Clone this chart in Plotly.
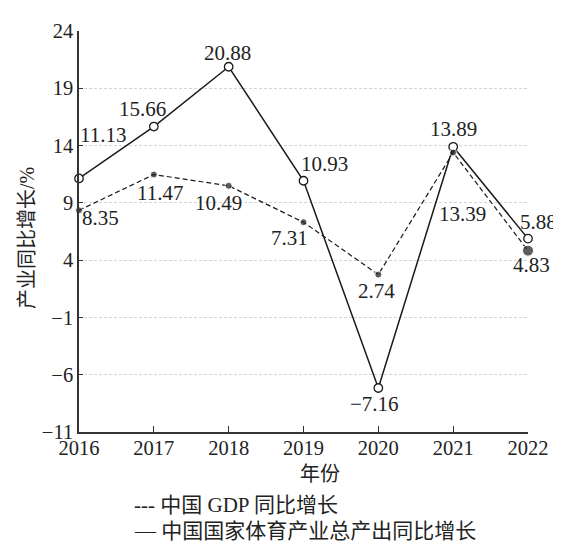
import plotly.graph_objects as go

years = [2016, 2017, 2018, 2019, 2020, 2021, 2022]
gdp_growth = [8.35, 11.47, 10.49, 7.31, 2.74, 13.39, 4.83]
sports_growth = [11.13, 15.66, 20.88, 10.93, -7.16, 13.89, 5.88]
y_ticks = [-11, -6, -1, 4, 9, 14, 19, 24]
y_tick_labels = ["\u221211", "\u22126", "\u22121", "4", "9", "14", "19", "24"]

def fmt(v):
    return ("\u2212" if v < 0 else "") + f"{abs(v):.2f}"

# label offsets (pixels) for each point
sports_shift = [(24, 43), (-11, 18), (-1, 14), (21, 17), (-4, -16), (0, 18), (10, 17)]
gdp_shift = [(21, -8), (6, -18), (-10, -17), (-14, -16), (-2, -16), (9, -61), (3, -14)]
gdp_sizes = [7, 7, 7, 7, 7, 7, 11]

FONT = "Liberation Serif, Noto Sans CJK SC, serif"

fig = go.Figure()
fig.add_trace(go.Scatter(
    x=years, y=sports_growth, mode="lines+markers",
    line=dict(color="#1a1a1a", width=1.5),
    marker=dict(symbol="circle", size=8.5, color="white", line=dict(color="#1a1a1a", width=1.3)),
    showlegend=False, cliponaxis=False,
))
fig.add_trace(go.Scatter(
    x=years, y=gdp_growth, mode="lines+markers",
    line=dict(color="#1a1a1a", width=1.2, dash="5px,3px"),
    marker=dict(symbol="circle", size=gdp_sizes, color="#1a1a1a"),
    showlegend=False, cliponaxis=False,
))

annotations = []
for x, v, (dx, dy) in zip(years, sports_growth, sports_shift):
    annotations.append(dict(x=x, y=v, text=fmt(v), showarrow=False, xshift=dx, yshift=dy,
                            font=dict(family=FONT, size=21, color="#222")))
for x, v, (dx, dy) in zip(years, gdp_growth, gdp_shift):
    annotations.append(dict(x=x, y=v, text=fmt(v), showarrow=False, xshift=dx, yshift=dy,
                            font=dict(family=FONT, size=21, color="#222")))

# axis titles
annotations.append(dict(xref="paper", yref="paper", x=0.537, y=-0.105, xanchor="center", yanchor="middle",
                        text="年份", showarrow=False, font=dict(family=FONT, size=20, color="#222")))
annotations.append(dict(xref="paper", yref="paper", x=-0.117, y=0.485, xanchor="center", yanchor="middle",
                        text="产业同比增长/%", textangle=-90, showarrow=False,
                        font=dict(family=FONT, size=20, color="#222")))
# legend
annotations.append(dict(xref="paper", yref="paper", x=0.119, y=-0.183, xanchor="left", yanchor="middle",
                        text="--- 中国 GDP 同比增长", showarrow=False,
                        font=dict(family=FONT, size=21, color="#222")))
annotations.append(dict(xref="paper", yref="paper", x=0.119, y=-0.246, xanchor="left", yanchor="middle",
                        text="\u2014 中国国家体育产业总产出同比增长", showarrow=False,
                        font=dict(family=FONT, size=21, color="#222")))

fig.update_layout(
    width=553, height=535,
    margin=dict(l=71, r=28, t=14, b=111),
    plot_bgcolor="white", paper_bgcolor="white",
    font=dict(family=FONT, size=20, color="#222"),
    annotations=annotations,
    xaxis=dict(
        range=[2016, 2022], tickmode="array", tickvals=years,
        ticktext=[str(y) for y in years],
        showgrid=False, zeroline=False,
        showline=True, linecolor="#333", linewidth=1.5,
        ticks="inside", ticklen=6, tickcolor="#333", tickwidth=1.2,
        ticklabelstandoff=-3,
        tickfont=dict(family=FONT, size=20.5, color="#222"),
    ),
    yaxis=dict(
        range=[-11, 24], tickmode="array", tickvals=y_ticks, ticktext=y_tick_labels,
        showgrid=True, gridcolor="#d4d4d4", griddash="3px,2px", gridwidth=1,
        zeroline=False,
        showline=True, linecolor="#333", linewidth=1.5,
        ticks="inside", ticklen=4, tickcolor="#333",
        tickfont=dict(family=FONT, size=20.5, color="#222"),
    ),
)

fig.write_html("out.html")
